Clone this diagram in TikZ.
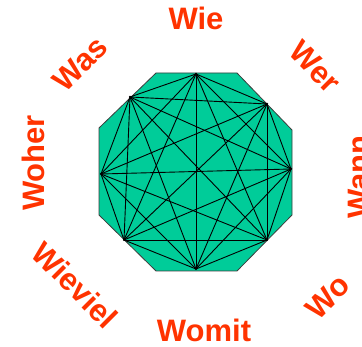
\documentclass[tikz,border=0pt]{standalone}
\usepackage{fontspec}
\setmainfont{Liberation Sans}
\usetikzlibrary{positioning}
\definecolor{octteal}{RGB}{0,204,153}
\definecolor{wordred}{RGB}{255,51,0}
\definecolor{edgegray}{RGB}{60,60,60}

\begin{document}
\begin{tikzpicture}[x=1pt,y=-1pt,
          n/.style={circle, fill=black, minimum size=2.5pt, inner sep=0pt},
          w/.style={text=wordred, font=\fontsize{31}{31}\selectfont\bfseries, inner sep=0pt}]
        \useasboundingbox (0,0) rectangle (362,347);
        \draw[fill=octteal, draw=edgegray, line width=0.8pt] (156,73) -- (237,73) -- (292,130) -- (292,215)
          -- (237,271) -- (156,271) -- (99,215) -- (99,128) -- cycle;
        \foreach \i/\x/\y in {1/196/74, 2/267/104, 3/291/169, 4/267/240, 5/196/269, 6/124/240, 7/101/174, 8/130/97}
          \node[n] (p\i) at (\x,\y) {};
        \foreach \a in {1,...,7} {
          \pgfmathtruncatemacro\s{\a+1}
          \foreach \b in {\s,...,8} \draw[line width=0.9pt] (p\a.center)--(p\b.center);
        }
        \node[w] (wie) at (196,18) {Wie};
        \node[w, rotate=-45] (wer) at (315,67) {Wer};
        \node[w, rotate=90] (wann) at (359,177) {Wann};
        \node[w, rotate=45] (wo) at (328,297) {Wo};
        \node[w] (womit) at (204,330) {Womit};
        \node[w, rotate=-45] (wieviel) at (75,285) {Wieviel};
        \node[w, rotate=90] (woher) at (33,163) {Woher};
        \node[w, rotate=45] (was) at (80,64) {Was};
      \end{tikzpicture}
\end{document}
